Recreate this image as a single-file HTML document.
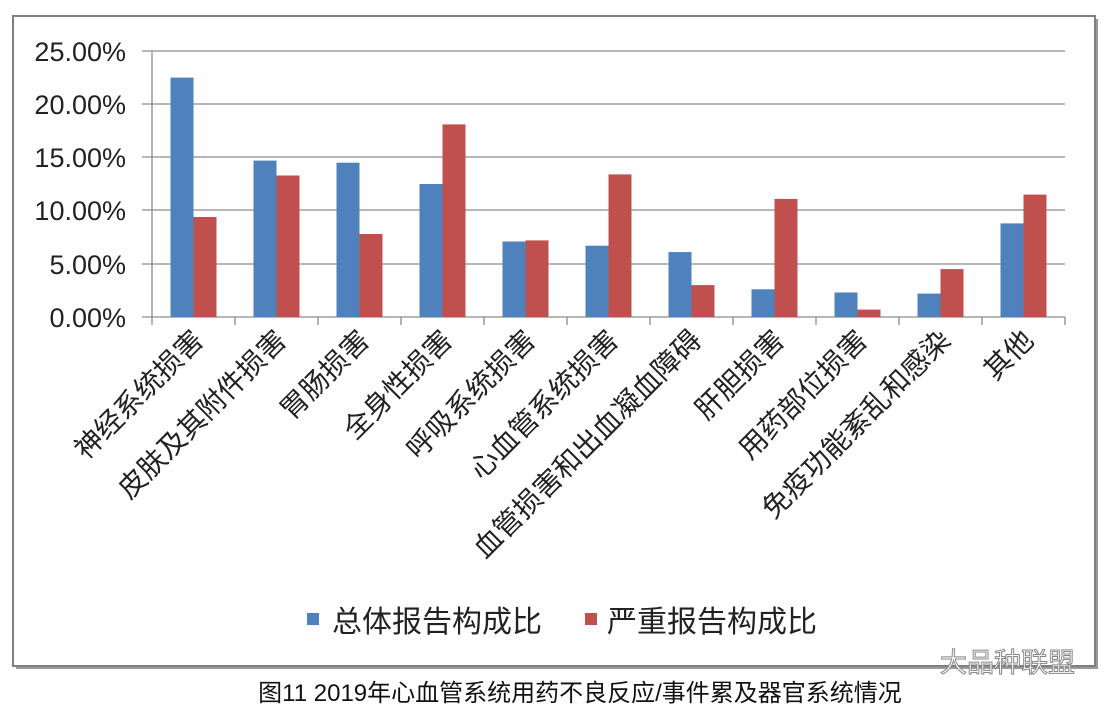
<!DOCTYPE html>
<html><head><meta charset="utf-8"><style>
body{margin:0;background:#fff;}
</style></head><body>
<svg width="1112" height="712" xmlns="http://www.w3.org/2000/svg" font-family="Liberation Sans, Noto Sans CJK SC, sans-serif">
<rect x="0" y="0" width="1112" height="712" fill="#fff"/>
<rect x="16" y="19" width="1082" height="650" fill="#9a9a9a"/>
<rect x="13" y="16" width="1082" height="650" fill="#fff" stroke="#7f7f7f" stroke-width="2"/>
<g stroke="#8c8c8c" stroke-width="1.3">
<line x1="142" y1="51" x2="1065" y2="51"/>
<line x1="142" y1="104" x2="1065" y2="104"/>
<line x1="142" y1="157" x2="1065" y2="157"/>
<line x1="142" y1="210" x2="1065" y2="210"/>
<line x1="142" y1="264" x2="1065" y2="264"/>
<line x1="142" y1="317" x2="1065" y2="317"/>
<line x1="152" y1="51" x2="152" y2="325"/>
<line x1="235" y1="317" x2="235" y2="325"/>
<line x1="318" y1="317" x2="318" y2="325"/>
<line x1="401" y1="317" x2="401" y2="325"/>
<line x1="484" y1="317" x2="484" y2="325"/>
<line x1="567" y1="317" x2="567" y2="325"/>
<line x1="650" y1="317" x2="650" y2="325"/>
<line x1="733" y1="317" x2="733" y2="325"/>
<line x1="816" y1="317" x2="816" y2="325"/>
<line x1="899" y1="317" x2="899" y2="325"/>
<line x1="982" y1="317" x2="982" y2="325"/>
<line x1="1065" y1="317" x2="1065" y2="325"/>
</g>
<g font-size="27" fill="#222" text-anchor="end">
<text x="126" y="61">25.00%</text>
<text x="126" y="114">20.00%</text>
<text x="126" y="167">15.00%</text>
<text x="126" y="220">10.00%</text>
<text x="126" y="274">5.00%</text>
<text x="126" y="327">0.00%</text>
</g>
<g fill="#4f81bd">
<rect x="170.5" y="77.6" width="23" height="239.4"/>
<rect x="253.5" y="160.6" width="23" height="156.4"/>
<rect x="336.5" y="162.7" width="23" height="154.3"/>
<rect x="419.5" y="184" width="23" height="133"/>
<rect x="502.5" y="241.5" width="23" height="75.5"/>
<rect x="585.5" y="245.7" width="23" height="71.3"/>
<rect x="668.5" y="252.1" width="23" height="64.9"/>
<rect x="751.5" y="289.3" width="23" height="27.7"/>
<rect x="834.5" y="292.5" width="23" height="24.5"/>
<rect x="917.5" y="293.6" width="23" height="23.4"/>
<rect x="1000.5" y="223.4" width="23" height="93.6"/>
</g>
<g fill="#c0504d">
<rect x="193.5" y="217" width="23" height="100"/>
<rect x="276.5" y="175.5" width="23" height="141.5"/>
<rect x="359.5" y="234" width="23" height="83"/>
<rect x="442.5" y="124.4" width="23" height="192.6"/>
<rect x="525.5" y="240.4" width="23" height="76.6"/>
<rect x="608.5" y="174.4" width="23" height="142.6"/>
<rect x="691.5" y="285.1" width="23" height="31.9"/>
<rect x="774.5" y="198.9" width="23" height="118.1"/>
<rect x="857.5" y="309.6" width="23" height="7.4"/>
<rect x="940.5" y="269.1" width="23" height="47.9"/>
<rect x="1023.5" y="194.6" width="23" height="122.4"/>
</g>
<g font-size="28" fill="#222" text-anchor="end">
<text transform="translate(205,342) rotate(-45)">神经系统损害</text>
<text transform="translate(288,342) rotate(-45)">皮肤及其附件损害</text>
<text transform="translate(371,342) rotate(-45)">胃肠损害</text>
<text transform="translate(454,342) rotate(-45)">全身性损害</text>
<text transform="translate(537,342) rotate(-45)">呼吸系统损害</text>
<text transform="translate(620,342) rotate(-45)">心血管系统损害</text>
<text transform="translate(703,342) rotate(-45)">血管损害和出血凝血障碍</text>
<text transform="translate(786,342) rotate(-45)">肝胆损害</text>
<text transform="translate(869,342) rotate(-45)">用药部位损害</text>
<text transform="translate(952,342) rotate(-45)">免疫功能紊乱和感染</text>
<text transform="translate(1035,342) rotate(-45)">其他</text>
</g>
<rect x="307" y="613" width="12" height="12" fill="#4f81bd"/>
<text x="332" y="632" font-size="30" fill="#222">总体报告构成比</text>
<rect x="585" y="613" width="12" height="12" fill="#c0504d"/>
<text x="607" y="632" font-size="30" fill="#222">严重报告构成比</text>
<text x="940" y="672" font-size="27" fill="#fff" stroke="#888" stroke-width="1">大品种联盟</text>
<text x="580" y="701" font-size="24" fill="#111" text-anchor="middle">图11 2019年心血管系统用药不良反应/事件累及器官系统情况</text>
</svg>
</body></html>
